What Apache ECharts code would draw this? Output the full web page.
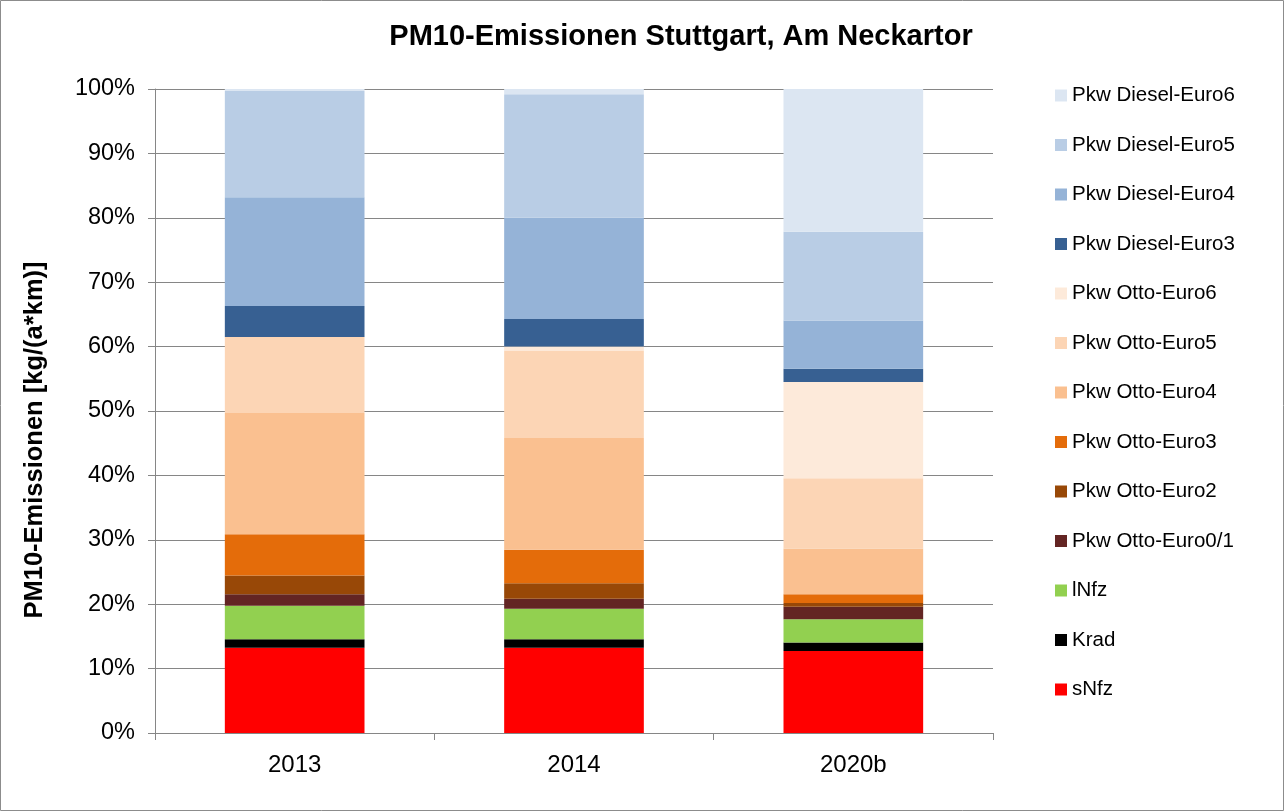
<!DOCTYPE html>
<html>
<head>
<meta charset="utf-8">
<script src="https://cdn.jsdelivr.net/npm/echarts@6/dist/echarts.min.js"></script>
<style>html,body{margin:0;padding:0;background:#fff}#c{width:1287px;height:812px}</style>
</head>
<body>
<div id="c"></div>
<script>
const categories = ['2013', '2014', '2020b'];
const yTicks = [0, 10, 20, 30, 40, 50, 60, 70, 80, 90, 100];
// stacking order bottom -> top
const seriesNames = ['sNfz', 'Krad', 'lNfz', 'Pkw Otto-Euro0/1', 'Pkw Otto-Euro2', 'Pkw Otto-Euro3', 'Pkw Otto-Euro4', 'Pkw Otto-Euro5', 'Pkw Otto-Euro6', 'Pkw Diesel-Euro3', 'Pkw Diesel-Euro4', 'Pkw Diesel-Euro5', 'Pkw Diesel-Euro6'];
const sNfz = [13.25, 13.25, 12.75];
const krad = [1.3, 1.3, 1.3];
const lNfz = [5.2, 4.75, 3.6];
const otto01 = [1.8, 1.55, 1.95];
const otto2 = [2.9, 2.4, 0.6];
const otto3 = [6.4, 5.2, 1.35];
const otto4 = [18.85, 17.35, 7.1];
const otto5 = [11.8, 13.6, 10.9];
const otto6 = [0, 0.6, 14.95];
const diesel3 = [4.8, 4.3, 2.05];
const diesel4 = [16.9, 15.7, 7.5];
const diesel5 = [16.5, 19.2, 13.8];
const diesel6 = [0.3, 0.8, 22.15];
const seriesValues = [sNfz, krad, lNfz, otto01, otto2, otto3, otto4, otto5, otto6, diesel3, diesel4, diesel5, diesel6];
const colors = ['#FF0000', '#000000', '#92D050', '#632523', '#984807', '#E46C0A', '#FAC090', '#FCD5B5', '#FDEADA', '#376092', '#95B3D7', '#B9CDE5', '#DCE6F2'];

const chart = echarts.init(document.getElementById('c'));
const font = 'Liberation Sans, Arial, sans-serif';
chart.setOption({
  animation: false,
  textStyle: { fontFamily: font },
  graphic: [{ type: 'rect', shape: { x: 0.5, y: 0.5, width: 1283, height: 810 }, style: { fill: 'none', stroke: '#8c8c8c', lineWidth: 1 }, silent: true }],
  title: {
    text: 'PM10-Emissionen Stuttgart, Am Neckartor',
    left: 681, top: 22, textAlign: 'center', padding: 0,
    textStyle: { fontFamily: font, fontSize: 29, fontWeight: 'bold', color: '#000' }
  },
  legend: {
    orient: 'vertical', left: 1055, top: 85, padding: 0,
    itemWidth: 12, itemHeight: 12, itemGap: 28.5,
    icon: 'rect',
    data: seriesNames.slice().reverse(),
    textStyle: { fontFamily: font, fontSize: 20.5, color: '#000' }
  },
  grid: { left: 155, right: 294, top: 89, bottom: 79, containLabel: false },
  xAxis: {
    type: 'category', data: categories,
    axisLine: { lineStyle: { color: '#868686', width: 1 } },
    axisTick: { show: true, length: 7, alignWithLabel: false, lineStyle: { color: '#868686' } },
    axisLabel: { fontFamily: font, fontSize: 24, color: '#000', margin: 20 }
  },
  yAxis: {
    type: 'value', min: 0, max: 100, interval: 10,
    name: 'PM10-Emissionen [kg/(a*km)]', nameLocation: 'middle', nameGap: 107, nameRotate: 90,
    nameTextStyle: { fontFamily: font, fontSize: 25.5, fontWeight: 'bold', color: '#000', padding: [0, 58, 0, 0] },
    axisLine: { show: true, lineStyle: { color: '#868686' } },
    axisTick: { show: true, length: 7, lineStyle: { color: '#868686' } },
    splitLine: { lineStyle: { color: '#868686', width: 1 } },
    axisLabel: { fontFamily: font, fontSize: 23.5, color: '#000', margin: 20, formatter: v => yTicks.includes(v) ? v + '%' : '' }
  },
  series: seriesNames.map((n, i) => ({
    name: n, type: 'bar', stack: 'total', barWidth: '50%',
    itemStyle: { color: colors[i] },
    data: seriesValues[i]
  }))
});
</script>
</body>
</html>
